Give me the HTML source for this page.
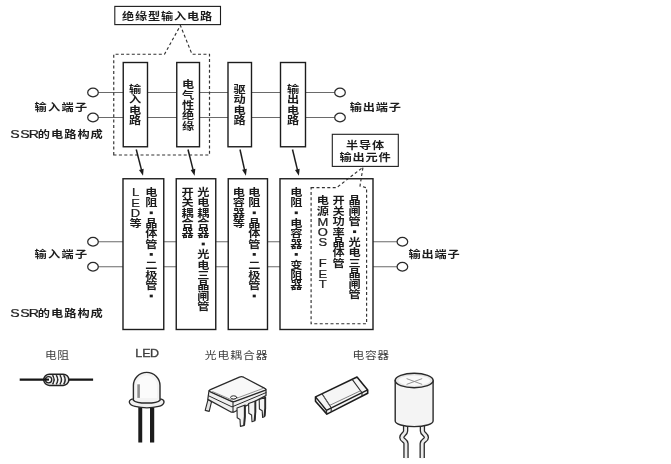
<!DOCTYPE html>
<html lang="zh"><head><meta charset="utf-8"><title>SSR的电路构成</title>
<style>
html,body{margin:0;padding:0;background:#fff}
body{width:671px;height:464px;overflow:hidden;font-family:"Liberation Sans","Noto Sans CJK SC",sans-serif}
svg{display:block}
svg text{font-family:"Liberation Sans","Noto Sans CJK SC",sans-serif}
svg text.b{font-size:12.2px;font-weight:bold}
svg text.r{font-size:11.8px;font-weight:normal}
</style></head>
<body>
<svg width="671" height="464" viewBox="0 0 671 464">
<defs>
<filter id="soft" x="0" y="0" width="671" height="464" filterUnits="userSpaceOnUse"><feGaussianBlur stdDeviation="0.45"/></filter>
</defs>
<rect width="671" height="464" fill="#fff"/>
<g filter="url(#soft)">
<line x1="98" y1="92.5" x2="335" y2="92.5" stroke="#6a6a6a" stroke-width="1.1"/>
<line x1="98" y1="117.5" x2="335" y2="117.5" stroke="#6a6a6a" stroke-width="1.1"/>
<path d="M113.75 155V54.25H164.5L180.4 25.5L192 54.25H209.5V155Z" fill="none" stroke="#303030" stroke-width="1.15" stroke-dasharray="3 2.4"/>
<rect x="123.25" y="62.5" width="24.25" height="84.25" fill="#fff" stroke="#1e1e1e" stroke-width="1.4"/>
<rect x="176.75" y="62.5" width="22.75" height="84.25" fill="#fff" stroke="#1e1e1e" stroke-width="1.4"/>
<rect x="228" y="62.5" width="23.5" height="84.25" fill="#fff" stroke="#1e1e1e" stroke-width="1.4"/>
<rect x="280.5" y="62.5" width="25" height="84.25" fill="#fff" stroke="#1e1e1e" stroke-width="1.4"/>
<ellipse cx="93" cy="92.5" rx="5.3" ry="4.3" fill="#fff" stroke="#2a2a2a" stroke-width="1.25"/>
<ellipse cx="93" cy="117.5" rx="5.3" ry="4.3" fill="#fff" stroke="#2a2a2a" stroke-width="1.25"/>
<ellipse cx="340" cy="92.5" rx="5.3" ry="4.3" fill="#fff" stroke="#2a2a2a" stroke-width="1.25"/>
<ellipse cx="340" cy="117.5" rx="5.3" ry="4.3" fill="#fff" stroke="#2a2a2a" stroke-width="1.25"/>
<rect x="114.8" y="6.4" width="105.7" height="18.2" fill="#fff" stroke="#1e1e1e" stroke-width="1.1"/>
<g fill="#1c1c1c" aria-label="绝缘型输入电路">
<text class="b" transform="translate(122 19.7) scale(1 0.836)" x="0 13 26 39 52 65 78">绝缘型输入电路</text>
</g>
<g fill="#1c1c1c" stroke="#1c1c1c" stroke-width="0" aria-label="输入电路">
<text class="b" transform="translate(129.1 92.7) scale(1 0.836)">输</text>
<text class="b" transform="translate(129.1 103.1) scale(1 0.836)">入</text>
<text class="b" transform="translate(129.1 113.5) scale(1 0.836)">电</text>
<text class="b" transform="translate(129.1 123.9) scale(1 0.836)">路</text>
</g>
<g fill="#1c1c1c" stroke="#1c1c1c" stroke-width="0" aria-label="电气性绝缘">
<text class="b" transform="translate(182 88.2) scale(1 0.836)">电</text>
<text class="b" transform="translate(182 98.6) scale(1 0.836)">气</text>
<text class="b" transform="translate(182 109) scale(1 0.836)">性</text>
<text class="b" transform="translate(182 119.4) scale(1 0.836)">绝</text>
<text class="b" transform="translate(182 129.8) scale(1 0.836)">缘</text>
</g>
<g fill="#1c1c1c" stroke="#1c1c1c" stroke-width="0" aria-label="驱动电路">
<text class="b" transform="translate(233.6 92.7) scale(1 0.836)">驱</text>
<text class="b" transform="translate(233.6 103.1) scale(1 0.836)">动</text>
<text class="b" transform="translate(233.6 113.5) scale(1 0.836)">电</text>
<text class="b" transform="translate(233.6 123.9) scale(1 0.836)">路</text>
</g>
<g fill="#1c1c1c" stroke="#1c1c1c" stroke-width="0" aria-label="输出电路">
<text class="b" transform="translate(286.9 92.7) scale(1 0.836)">输</text>
<text class="b" transform="translate(286.9 103.1) scale(1 0.836)">出</text>
<text class="b" transform="translate(286.9 113.5) scale(1 0.836)">电</text>
<text class="b" transform="translate(286.9 123.9) scale(1 0.836)">路</text>
</g>
<g fill="#1c1c1c" aria-label="输入端子">
<text class="b" transform="translate(34.4 110.8) scale(1 0.836)" x="0 13.5 27 40.5">输入端子</text>
</g>
<g fill="#1c1c1c" aria-label="输出端子">
<text class="b" transform="translate(349.7 110.6) scale(1 0.836)" x="0 13 26 39">输出端子</text>
</g>
<g fill="#1c1c1c" stroke="#1c1c1c" stroke-width="0" aria-label="SSR的电路构成">
<text transform="translate(14.9 137.86) scale(1.13 0.84)" font-size="12.5" text-anchor="middle" stroke-width="0.25">S</text>
<text transform="translate(24.9 137.86) scale(1.13 0.84)" font-size="12.5" text-anchor="middle" stroke-width="0.25">S</text>
<text transform="translate(33.9 137.86) scale(1.13 0.84)" font-size="12.5" text-anchor="middle" stroke-width="0.25">R</text>
<text class="b" transform="translate(37.8 137.9) scale(1 0.836)" x="0 13.2 26.4 39.6 52.8">的电路构成</text>
</g>
<line x1="136.25" y1="149.5" x2="141.61" y2="170.33" stroke="#1e1e1e" stroke-width="1.5"/><path d="M143 175.75L139.03 169.96L143.68 168.76Z" fill="#1e1e1e"/>
<line x1="188" y1="149.5" x2="193.23" y2="170.32" stroke="#1e1e1e" stroke-width="1.5"/><path d="M194.6 175.75L190.66 169.93L195.32 168.76Z" fill="#1e1e1e"/>
<line x1="240" y1="149.5" x2="244.67" y2="170.29" stroke="#1e1e1e" stroke-width="1.5"/><path d="M245.9 175.75L242.11 169.84L246.79 168.78Z" fill="#1e1e1e"/>
<line x1="292.5" y1="149.5" x2="297.57" y2="170.31" stroke="#1e1e1e" stroke-width="1.5"/><path d="M298.9 175.75L295 169.91L299.67 168.77Z" fill="#1e1e1e"/>
<rect x="332.3" y="134.3" width="66" height="32.1" fill="#fff" stroke="#1e1e1e" stroke-width="1.1"/>
<g fill="#1c1c1c" aria-label="半导体">
<text class="b" transform="translate(346.1 148.8) scale(1 0.836)" x="0 13 26">半导体</text>
</g>
<g fill="#1c1c1c" aria-label="输出元件">
<text class="b" transform="translate(339.6 161.1) scale(1 0.836)" x="0 13 26 39">输出元件</text>
</g>
<line x1="98" y1="241.75" x2="397" y2="241.75" stroke="#6a6a6a" stroke-width="1.1"/>
<line x1="98" y1="266.75" x2="397" y2="266.75" stroke="#6a6a6a" stroke-width="1.1"/>
<rect x="123" y="178.75" width="40.75" height="150.75" fill="#fff" stroke="#1e1e1e" stroke-width="1.4"/>
<rect x="176.25" y="178.75" width="39.5" height="150.75" fill="#fff" stroke="#1e1e1e" stroke-width="1.4"/>
<rect x="228.25" y="178.75" width="39.25" height="150.75" fill="#fff" stroke="#1e1e1e" stroke-width="1.4"/>
<rect x="280" y="178.75" width="93" height="150.75" fill="#fff" stroke="#1e1e1e" stroke-width="1.4"/>
<ellipse cx="93" cy="241.75" rx="5.3" ry="4.3" fill="#fff" stroke="#2a2a2a" stroke-width="1.25"/>
<ellipse cx="93" cy="266.75" rx="5.3" ry="4.3" fill="#fff" stroke="#2a2a2a" stroke-width="1.25"/>
<ellipse cx="402.4" cy="241.75" rx="5.3" ry="4.3" fill="#fff" stroke="#2a2a2a" stroke-width="1.25"/>
<ellipse cx="402.4" cy="266.75" rx="5.3" ry="4.3" fill="#fff" stroke="#2a2a2a" stroke-width="1.25"/>
<path d="M311.1 187.6H336.7L363 167.2L360 186L366.6 187.8V323.75H311.1Z" fill="none" stroke="#303030" stroke-width="1.15" stroke-dasharray="3 2.4"/>
<g fill="#1c1c1c" stroke="#1c1c1c" stroke-width="0" aria-label="LED等">
<text transform="translate(135.5 196.21) scale(1.08 0.84)" font-size="12" text-anchor="middle" stroke-width="0.25">L</text>
<text transform="translate(135.5 206.61) scale(1.08 0.84)" font-size="12" text-anchor="middle" stroke-width="0.25">E</text>
<text transform="translate(135.5 217.01) scale(1.08 0.84)" font-size="12" text-anchor="middle" stroke-width="0.25">D</text>
<text class="b" transform="translate(129.4 227) scale(1 0.836)">等</text>
</g>
<g fill="#1c1c1c" stroke="#1c1c1c" stroke-width="0" aria-label="电阻・晶体管・二极管・">
<text class="b" transform="translate(145.15 195.8) scale(1 0.836)">电</text>
<text class="b" transform="translate(145.15 206.2) scale(1 0.836)">阻</text>
<rect x="149.7" y="211.45" width="3.1" height="2.7"/>
<text class="b" transform="translate(145.15 227) scale(1 0.836)">晶</text>
<text class="b" transform="translate(145.15 237.4) scale(1 0.836)">体</text>
<text class="b" transform="translate(145.15 247.8) scale(1 0.836)">管</text>
<rect x="149.7" y="253.05" width="3.1" height="2.7"/>
<text class="b" transform="translate(145.15 268.6) scale(1 0.836)">二</text>
<text class="b" transform="translate(145.15 279) scale(1 0.836)">极</text>
<text class="b" transform="translate(145.15 289.4) scale(1 0.836)">管</text>
<rect x="149.7" y="294.65" width="3.1" height="2.7"/>
</g>
<g fill="#1c1c1c" stroke="#1c1c1c" stroke-width="0" aria-label="开关耦合器">
<text class="b" transform="translate(181.4 195.8) scale(1 0.836)">开</text>
<text class="b" transform="translate(181.4 206.2) scale(1 0.836)">关</text>
<text class="b" transform="translate(181.4 216.6) scale(1 0.836)">耦</text>
<text class="b" transform="translate(181.4 227) scale(1 0.836)">合</text>
<text class="b" transform="translate(181.4 237.4) scale(1 0.836)">器</text>
</g>
<g fill="#1c1c1c" stroke="#1c1c1c" stroke-width="0" aria-label="光电耦合器・光电三晶闸管">
<text class="b" transform="translate(197.15 195.8) scale(1 0.836)">光</text>
<text class="b" transform="translate(197.15 206.2) scale(1 0.836)">电</text>
<text class="b" transform="translate(197.15 216.6) scale(1 0.836)">耦</text>
<text class="b" transform="translate(197.15 227) scale(1 0.836)">合</text>
<text class="b" transform="translate(197.15 237.4) scale(1 0.836)">器</text>
<rect x="201.7" y="242.65" width="3.1" height="2.7"/>
<text class="b" transform="translate(197.15 258.2) scale(1 0.836)">光</text>
<text class="b" transform="translate(197.15 268.6) scale(1 0.836)">电</text>
<text class="b" transform="translate(197.15 279) scale(1 0.836)">三</text>
<text class="b" transform="translate(197.15 289.4) scale(1 0.836)">晶</text>
<text class="b" transform="translate(197.15 299.8) scale(1 0.836)">闸</text>
<text class="b" transform="translate(197.15 310.2) scale(1 0.836)">管</text>
</g>
<g fill="#1c1c1c" stroke="#1c1c1c" stroke-width="0" aria-label="电容器等">
<text class="b" transform="translate(232.65 195.8) scale(1 0.836)">电</text>
<text class="b" transform="translate(232.65 206.2) scale(1 0.836)">容</text>
<text class="b" transform="translate(232.65 216.6) scale(1 0.836)">器</text>
<text class="b" transform="translate(232.65 227) scale(1 0.836)">等</text>
</g>
<g fill="#1c1c1c" stroke="#1c1c1c" stroke-width="0" aria-label="电阻・晶体管・二极管・">
<text class="b" transform="translate(248.15 195.8) scale(1 0.836)">电</text>
<text class="b" transform="translate(248.15 206.2) scale(1 0.836)">阻</text>
<rect x="252.7" y="211.45" width="3.1" height="2.7"/>
<text class="b" transform="translate(248.15 227) scale(1 0.836)">晶</text>
<text class="b" transform="translate(248.15 237.4) scale(1 0.836)">体</text>
<text class="b" transform="translate(248.15 247.8) scale(1 0.836)">管</text>
<rect x="252.7" y="253.05" width="3.1" height="2.7"/>
<text class="b" transform="translate(248.15 268.6) scale(1 0.836)">二</text>
<text class="b" transform="translate(248.15 279) scale(1 0.836)">极</text>
<text class="b" transform="translate(248.15 289.4) scale(1 0.836)">管</text>
<rect x="252.7" y="294.65" width="3.1" height="2.7"/>
</g>
<g fill="#1c1c1c" stroke="#1c1c1c" stroke-width="0" aria-label="电阻・电容器・变阻器">
<text class="b" transform="translate(290.15 195.8) scale(1 0.836)">电</text>
<text class="b" transform="translate(290.15 206.2) scale(1 0.836)">阻</text>
<rect x="294.7" y="211.45" width="3.1" height="2.7"/>
<text class="b" transform="translate(290.15 227) scale(1 0.836)">电</text>
<text class="b" transform="translate(290.15 237.4) scale(1 0.836)">容</text>
<text class="b" transform="translate(290.15 247.8) scale(1 0.836)">器</text>
<rect x="294.7" y="253.05" width="3.1" height="2.7"/>
<text class="b" transform="translate(290.15 268.6) scale(1 0.836)">变</text>
<text class="b" transform="translate(290.15 279) scale(1 0.836)">阻</text>
<text class="b" transform="translate(290.15 289.4) scale(1 0.836)">器</text>
</g>
<g fill="#1c1c1c" stroke="#1c1c1c" stroke-width="0" aria-label="电源MOS FET">
<text class="b" transform="translate(316.7 204.3) scale(1 0.836)">电</text>
<text class="b" transform="translate(316.7 214.7) scale(1 0.836)">源</text>
<text transform="translate(322.8 225.51) scale(1.08 0.84)" font-size="12" text-anchor="middle" stroke-width="0.25">M</text>
<text transform="translate(322.8 235.91) scale(1.08 0.84)" font-size="12" text-anchor="middle" stroke-width="0.25">O</text>
<text transform="translate(322.8 246.31) scale(1.08 0.84)" font-size="12" text-anchor="middle" stroke-width="0.25">S</text>
<text transform="translate(322.8 267.11) scale(1.08 0.84)" font-size="12" text-anchor="middle" stroke-width="0.25">F</text>
<text transform="translate(322.8 277.51) scale(1.08 0.84)" font-size="12" text-anchor="middle" stroke-width="0.25">E</text>
<text transform="translate(322.8 287.91) scale(1.08 0.84)" font-size="12" text-anchor="middle" stroke-width="0.25">T</text>
</g>
<g fill="#1c1c1c" stroke="#1c1c1c" stroke-width="0" aria-label="开关功率晶体管">
<text class="b" transform="translate(332.5 204.3) scale(1 0.836)">开</text>
<text class="b" transform="translate(332.5 214.7) scale(1 0.836)">关</text>
<text class="b" transform="translate(332.5 225.1) scale(1 0.836)">功</text>
<text class="b" transform="translate(332.5 235.5) scale(1 0.836)">率</text>
<text class="b" transform="translate(332.5 245.9) scale(1 0.836)">晶</text>
<text class="b" transform="translate(332.5 256.3) scale(1 0.836)">体</text>
<text class="b" transform="translate(332.5 266.7) scale(1 0.836)">管</text>
</g>
<g fill="#1c1c1c" stroke="#1c1c1c" stroke-width="0" aria-label="晶闸管・光电三晶闸管">
<text class="b" transform="translate(348.5 204.3) scale(1 0.836)">晶</text>
<text class="b" transform="translate(348.5 214.7) scale(1 0.836)">闸</text>
<text class="b" transform="translate(348.5 225.1) scale(1 0.836)">管</text>
<rect x="353.05" y="230.35" width="3.1" height="2.7"/>
<text class="b" transform="translate(348.5 245.9) scale(1 0.836)">光</text>
<text class="b" transform="translate(348.5 256.3) scale(1 0.836)">电</text>
<text class="b" transform="translate(348.5 266.7) scale(1 0.836)">三</text>
<text class="b" transform="translate(348.5 277.1) scale(1 0.836)">晶</text>
<text class="b" transform="translate(348.5 287.5) scale(1 0.836)">闸</text>
<text class="b" transform="translate(348.5 297.9) scale(1 0.836)">管</text>
</g>
<g fill="#1c1c1c" aria-label="输入端子">
<text class="b" transform="translate(34.4 258.2) scale(1 0.836)" x="0 13.5 27 40.5">输入端子</text>
</g>
<g fill="#1c1c1c" aria-label="输出端子">
<text class="b" transform="translate(408.4 258.1) scale(1 0.836)" x="0 13 26 39">输出端子</text>
</g>
<g fill="#1c1c1c" stroke="#1c1c1c" stroke-width="0" aria-label="SSR的电路构成">
<text transform="translate(14.9 317.16) scale(1.13 0.84)" font-size="12.5" text-anchor="middle" stroke-width="0.25">S</text>
<text transform="translate(24.9 317.16) scale(1.13 0.84)" font-size="12.5" text-anchor="middle" stroke-width="0.25">S</text>
<text transform="translate(33.9 317.16) scale(1.13 0.84)" font-size="12.5" text-anchor="middle" stroke-width="0.25">R</text>
<text class="b" transform="translate(37.8 317.2) scale(1 0.836)" x="0 13.2 26.4 39.6 52.8">的电路构成</text>
</g>
<g fill="#3c3c3c" aria-label="电阻">
<text class="r" transform="translate(45.05 359.25) scale(1 0.839)" x="0 12.3">电阻</text>
</g>
<g fill="#3c3c3c" aria-label="LED"><text transform="translate(138.8 357.15) scale(1 0.86)" font-size="12.5" text-anchor="middle" stroke-width="0.35" fill="#3c3c3c" stroke="#3c3c3c">L</text><text transform="translate(146.4 357.15) scale(1 0.86)" font-size="12.5" text-anchor="middle" stroke-width="0.35" fill="#3c3c3c" stroke="#3c3c3c">E</text><text transform="translate(154.6 357.15) scale(1 0.86)" font-size="12.5" text-anchor="middle" stroke-width="0.35" fill="#3c3c3c" stroke="#3c3c3c">D</text></g>
<g fill="#3c3c3c" aria-label="光电耦合器">
<text class="r" transform="translate(204.65 359.05) scale(1 0.839)" x="0 12.8 25.6 38.4 51.2">光电耦合器</text>
</g>
<g fill="#3c3c3c" aria-label="电容器">
<text class="r" transform="translate(352.6 358.95) scale(1 0.839)" x="0 12.3 24.6">电容器</text>
</g>
<!-- resistor -->
<g aria-label="resistor">
<line x1="19.7" y1="379.6" x2="93.1" y2="379.6" stroke="#161616" stroke-width="2.1"/>
<rect x="43.8" y="374.2" width="25" height="11.2" rx="5.6" ry="5.4" fill="#e9e9e9" stroke="#222" stroke-width="1.5"/>
<path d="M52.6 375.2Q55.6 379.8 52.6 384.4M56.3 375.2Q59.3 379.8 56.3 384.4M60 375.2Q63 379.8 60 384.4M63.7 375.2Q66.6 379.8 63.7 384.4" fill="none" stroke="#2a2a2a" stroke-width="1.5"/>
<path d="M54.4 375.6Q57.2 379.8 54.4 384M58.1 375.6Q60.9 379.8 58.1 384M61.8 375.6Q64.6 379.8 61.8 384" fill="none" stroke="#fff" stroke-width="1"/>
<circle cx="48.6" cy="379.7" r="3.1" fill="#fff" stroke="#222" stroke-width="1.3"/>
<line x1="43" y1="379.6" x2="49" y2="379.6" stroke="#161616" stroke-width="2.1"/>
</g>
<!-- LED -->
<g aria-label="LED lamp">
<rect x="138.3" y="405" width="3.9" height="37.5" fill="#1c1c1c"/>
<rect x="150" y="405" width="4.2" height="37.5" fill="#1c1c1c"/>
<path d="M132 399.2C127.6 400.6 128.6 404.8 135 406.4C142 408.1 152 408.1 158.6 406.4C164.8 404.8 165.6 400.6 161.4 399.2Z" fill="#f1f1f1" stroke="#2a2a2a" stroke-width="1.3"/>
<path d="M133.4 400.2V385.6A13.3 13.2 0 0 1 160 385.6V400.2C157 404 136.4 404 133.4 400.2Z" fill="#f3f3f3" stroke="#2a2a2a" stroke-width="1.4"/>
<path d="M136.5 398V386A10.2 10.4 0 0 1 157 386V398Z" fill="#fbfbfb"/>
<rect x="137.3" y="384.3" width="2.6" height="13.6" fill="#8c8c8c"/>
</g>
<!-- optocoupler DIP -->
<g aria-label="optocoupler" stroke-linejoin="round" stroke-linecap="round">
<path d="M208 399.6L205.2 410.4L209.2 411.4L211.6 401.4Z" fill="#e4e4e4" stroke="#2a2a2a" stroke-width="1.1"/>
<path d="M209 390.6L207.8 399.4L231.4 412.2H233.6L266 395.6V389.4L233 401.6Z" fill="#f0f0f0" stroke="#2a2a2a" stroke-width="1.2"/>
<path d="M208.6 395.8L232 406.9L266 392.6" fill="none" stroke="#2a2a2a" stroke-width="1"/>
<path d="M233 401.8V412" fill="none" stroke="#2a2a2a" stroke-width="1.1"/>
<path d="M259.2 399.6L265.6 397.3V408.3L265.0 415.6L264.7 416.4L262.6 417.4L262.2 410.7L259.4 409.1Z" fill="#f3f3f3" stroke="#2a2a2a" stroke-width="1.1"/>
<path d="M265.1 398.3V408.3L264.4 415.8" fill="none" stroke="#2a2a2a" stroke-width="1.7"/>
<path d="M248.6 403.6L255.7 401.0V412.2L255.1 420.0L254.8 420.8L252.0 421.8L251.6 414.9L248.8 413.3Z" fill="#f3f3f3" stroke="#2a2a2a" stroke-width="1.1"/>
<path d="M255.2 402.0V412.2L254.5 420.2" fill="none" stroke="#2a2a2a" stroke-width="1.7"/>
<path d="M237.0 408.0L245.2 405.0V416.3L244.6 424.6L244.3 425.4L240.4 426.4L240.0 419.4L237.2 417.8Z" fill="#f3f3f3" stroke="#2a2a2a" stroke-width="1.1"/>
<path d="M244.7 406.0V416.3L244.0 424.8" fill="none" stroke="#2a2a2a" stroke-width="1.7"/>
<path d="M210.4 389.6Q208.4 390.7 210.4 391.8L231 401.2Q233 402.1 235 401.3L264.8 390.4Q266.8 389.4 264.8 388.4L243.6 377.2Q241.5 376.2 239.4 377.1Z" fill="#f8f8f8" stroke="#2a2a2a" stroke-width="1.3"/>
<path d="M212.6 391.6L232 400L262.6 388.6" fill="none" stroke="#777" stroke-width="0.8"/>
<ellipse cx="233.7" cy="397.4" rx="3.1" ry="1.6" fill="#fff" stroke="#2a2a2a" stroke-width="1"/>
</g>
<!-- chip capacitor -->
<g aria-label="chip capacitor" stroke-linejoin="round">
<path d="M315.5 396.9L357 377L367.7 389.9V393.2L326.9 414.1L315.5 401.3Z" fill="#f5f5f5" stroke="#1e1e1e" stroke-width="1.6"/>
<path d="M315.5 396.9L326.4 410.3L367.7 389.9" fill="none" stroke="#1e1e1e" stroke-width="1.4"/>
<path d="M326.4 410.3L326.9 414.1" fill="none" stroke="#2a2a2a" stroke-width="1.1"/>
<path d="M322 393.8L331.2 407.8V411.8M352.2 379.4L362 392.8V396" fill="none" stroke="#2a2a2a" stroke-width="1.1"/>
<path d="M323.2 395.4L329.6 405.4L360.4 390.8" fill="none" stroke="#666" stroke-width="0.8"/>
</g>
<!-- electrolytic capacitor -->
<g aria-label="electrolytic capacitor" fill="none">
<path d="M405.6 425V431C405.6 434 401.8 434.6 401.8 437.4C401.8 440.4 406 440.4 406 443.6V458" stroke="#2a2a2a" stroke-width="5.4"/>
<path d="M405.6 425V431C405.6 434 401.8 434.6 401.8 437.4C401.8 440.4 406 440.4 406 443.6V458.6" stroke="#ececec" stroke-width="2.8"/>
<path d="M422.4 425V431C422.4 434 426.4 434.6 426.4 437.4C426.4 440.4 422.2 440.4 422.2 443.6V458" stroke="#2a2a2a" stroke-width="5.4"/>
<path d="M422.4 425V431C422.4 434 426.4 434.6 426.4 437.4C426.4 440.4 422.2 440.4 422.2 443.6V458.6" stroke="#ececec" stroke-width="2.8"/>
<path d="M395.2 380.5V421A18.95 5.6 0 0 0 433.1 421V380.5Z" fill="#f4f4f4" stroke="#2a2a2a" stroke-width="1.4"/>
<ellipse cx="414.15" cy="380.5" rx="18.95" ry="7.2" fill="#e6e6e6" stroke="#2a2a2a" stroke-width="1.4"/>
<ellipse cx="414.3" cy="380.6" rx="15.8" ry="5.2" fill="#fafafa"/>
<path d="M406.6 378.6L422.2 384.4M422.2 378.6L406.6 384.4" stroke="#888" stroke-width="0.9"/>
</g>

</g>
</svg>
</body></html>
